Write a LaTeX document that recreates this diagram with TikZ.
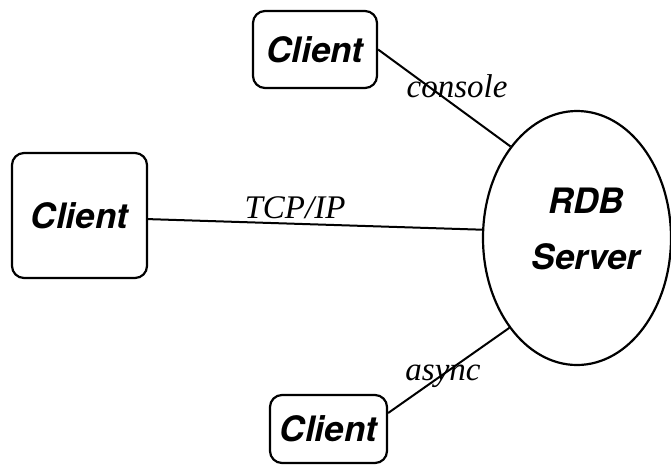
\documentclass[tikz,border=0pt]{standalone}
\usepackage{fontspec}
\setmainfont{Liberation Serif}
\newfontfamily\heros{TeX Gyre Heros}
\usetikzlibrary{shapes.geometric}
\begin{document}
\begin{tikzpicture}[x=1pt,y=-1pt,
  clientbox/.style={draw, line width=2.2pt, rounded corners=12pt, inner sep=0pt,
    font=\heros\bfseries\itshape\fontsize{35}{40}\selectfont},
  serverell/.style={draw, ellipse, line width=2.2pt, inner sep=0pt},
  servertxt/.style={align=center, inner sep=0pt,
    font=\heros\bfseries\itshape\fontsize{35}{56}\selectfont},
  link/.style={line width=2pt},
  lbl/.style={inner sep=0pt, font=\itshape\fontsize{33}{38}\selectfont}]
\useasboundingbox (0,0) rectangle (671,464);
\node[clientbox, minimum width=124pt, minimum height=77pt] (ctop) at (315,49.5) {Client};
\node[clientbox, minimum width=135pt, minimum height=125pt] (cleft) at (79.5,215.5) {Client};
\node[clientbox, minimum width=117pt, minimum height=68pt] (cbot) at (328.5,429) {Client};
\node[serverell, minimum width=188pt, minimum height=254pt] (server) at (577,238) {};
\node[servertxt] (stext) at (586,229) {RDB\\Server};
\draw[link] (ctop.east) -- (server.126);
\draw[link] (cleft.-3.8) -- (server.175.8);
\draw[link] (cbot.15.3) -- (server.233.6);
\node[lbl] (lcon) at (457,86) {console};
\node[lbl] (ltcp) at (295,208) {TCP/IP};
\node[lbl] (lasy) at (443,376) {async};
\end{tikzpicture}
\end{document}
